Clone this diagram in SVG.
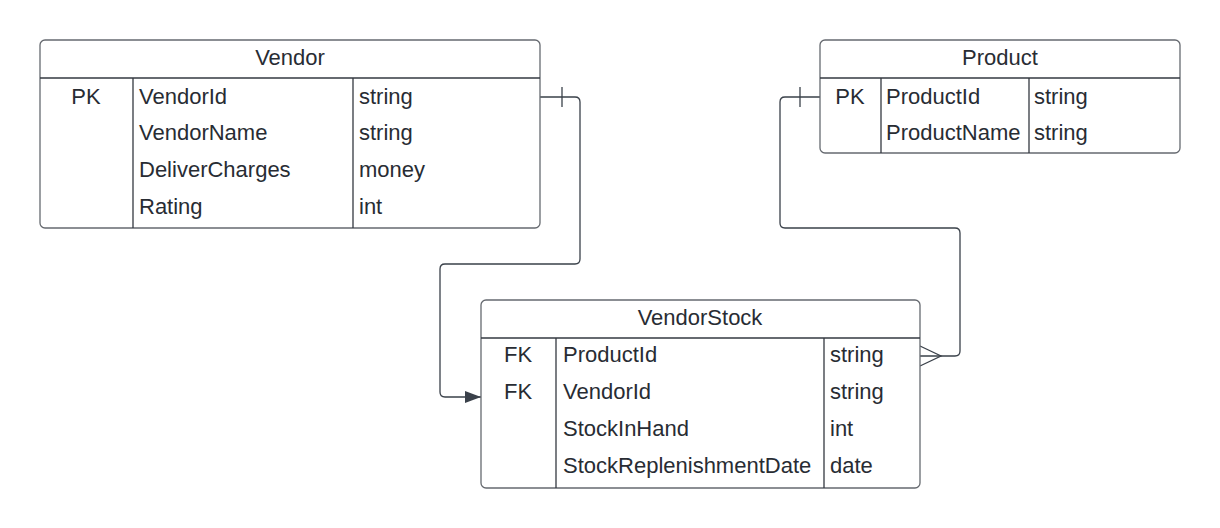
<svg xmlns="http://www.w3.org/2000/svg" width="1220" height="528" viewBox="0 0 1220 528">
<style>
.box{fill:#fff;stroke:#666a70;stroke-width:1.3}
.div{stroke:#333840;stroke-width:1.3;fill:none}
.t{font-family:"Liberation Sans",Arial,sans-serif;font-size:22px;fill:#282c33;dominant-baseline:central}
.c{text-anchor:middle}
.con{fill:none;stroke:#3a414a;stroke-width:1.3}
</style>
<defs>
<marker id="arr" markerWidth="16" markerHeight="12" refX="16" refY="6" orient="auto" markerUnits="userSpaceOnUse">
<path d="M0,0 L16,6 L0,12 Z" fill="#3a414a"/>
</marker>
</defs>
<rect width="1220" height="528" fill="#fff"/>
<g id="connectors">
<path class="con" d="M540,97 H575 Q580,97 580,102 V259 Q580,264 575,264 H445 Q440,264 440,269 V392 Q440,397 445,397 H481" marker-end="url(#arr)"/>
<line class="con" x1="562" y1="87" x2="562" y2="107"/>
<path class="con" d="M820,97 H785 Q780,97 780,102 V223 Q780,228 785,228 H955 Q960,228 960,233 V351 Q960,356 955,356 H920"/>
<line class="con" x1="800" y1="87" x2="800" y2="107"/>
<path class="con" d="M920,346 L941,356 L920,366"/>
</g>
<g id="vendor">
<rect class="box" x="40" y="40" width="500" height="188" rx="5"/>
<line class="div" x1="40" y1="78" x2="540" y2="78"/>
<line class="div" x1="133" y1="78" x2="133" y2="228"/>
<line class="div" x1="353" y1="78" x2="353" y2="228"/>
<text class="t c" x="290" y="57">Vendor</text>
<text class="t c" x="86" y="96">PK</text>
<text class="t" x="139" y="96">VendorId</text>
<text class="t" x="359" y="96">string</text>
<text class="t" x="139" y="132">VendorName</text>
<text class="t" x="359" y="132">string</text>
<text class="t" x="139" y="169">DeliverCharges</text>
<text class="t" x="359" y="169">money</text>
<text class="t" x="139" y="206">Rating</text>
<text class="t" x="359" y="206">int</text>
</g>
<g id="product">
<rect class="box" x="820" y="40" width="360" height="113" rx="5"/>
<line class="div" x1="820" y1="78" x2="1180" y2="78"/>
<line class="div" x1="881" y1="78" x2="881" y2="153"/>
<line class="div" x1="1029" y1="78" x2="1029" y2="153"/>
<text class="t c" x="1000" y="57">Product</text>
<text class="t c" x="850" y="96">PK</text>
<text class="t" x="886" y="96">ProductId</text>
<text class="t" x="1034" y="96">string</text>
<text class="t" x="886" y="132">ProductName</text>
<text class="t" x="1034" y="132">string</text>
</g>
<g id="vendorstock">
<rect class="box" x="481" y="300" width="439" height="188" rx="5"/>
<line class="div" x1="481" y1="338" x2="920" y2="338"/>
<line class="div" x1="556" y1="338" x2="556" y2="488"/>
<line class="div" x1="824" y1="338" x2="824" y2="488"/>
<text class="t c" x="700" y="317">VendorStock</text>
<text class="t c" x="518" y="354">FK</text>
<text class="t" x="563" y="354">ProductId</text>
<text class="t" x="830" y="354">string</text>
<text class="t c" x="518" y="391">FK</text>
<text class="t" x="563" y="391">VendorId</text>
<text class="t" x="830" y="391">string</text>
<text class="t" x="563" y="428">StockInHand</text>
<text class="t" x="830" y="428">int</text>
<text class="t" x="563" y="465">StockReplenishmentDate</text>
<text class="t" x="830" y="465">date</text>
</g>
</svg>
